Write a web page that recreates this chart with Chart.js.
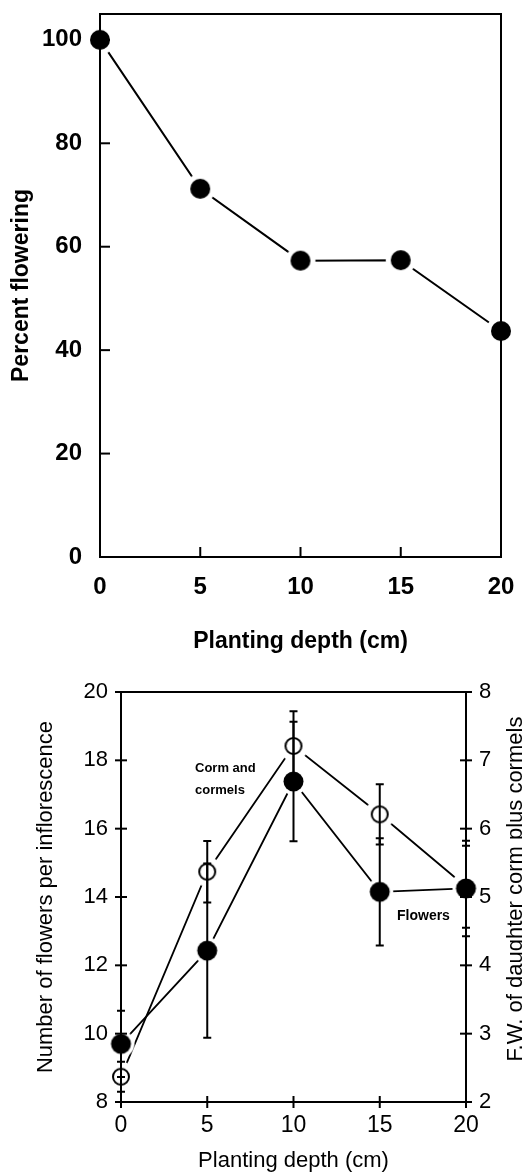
<!DOCTYPE html>
<html>
<head>
<meta charset="utf-8">
<script src="https://cdn.jsdelivr.net/npm/chart.js@4.4.1/dist/chart.umd.min.js"></script>
<style>
  html, body { margin: 0; padding: 0; background: #fff; }
  #wrap { position: relative; width: 522px; height: 1173px; overflow: hidden; }
  .box { position: absolute; left: 0; width: 522px; }
</style>
</head>
<body>
<div id="wrap">
  <div class="box" style="top:0;height:660px"><canvas id="topChart"></canvas></div>
  <div class="box" style="top:660px;height:513px"><canvas id="bottomChart"></canvas></div>
</div>
<script>
// planting depth (cm)
const depth = [0, 5, 10, 15, 20];

// top panel: percent flowering
const percentFlowering = [100, 71.2, 57.3, 57.4, 43.7];

// bottom panel: flowers per inflorescence (left axis) and corm + cormels F.W. (right axis)
const flowers = [9.7, 12.43, 17.38, 14.15, 14.25];
const flowersErr = [0.97, 2.55, 1.75, 1.57, 1.4];
const cormWeight = [2.37, 5.37, 7.21, 6.21, 5.15];
const cormErr = [0.22, 0.45, 0.51, 0.44, 0.6];

const depthTicks = [0, 5, 10, 15, 20];
const percentTicks = [0, 20, 40, 60, 80, 100];
const flowerTicks = [8, 10, 12, 14, 16, 18, 20];
const cormTicks = [2, 3, 4, 5, 6, 7, 8];

const FONT = "'Liberation Sans', Arial, sans-serif";
Chart.defaults.color = "#000";
Chart.defaults.font.family = FONT;

const pts = (ys) => depth.map((x, i) => ({ x: x, y: ys[i] }));
const setTicks = (vals) => (s) => { s.ticks = vals.map((v) => ({ value: v })); };

// fixed axis box size, and no extra room asked for overhanging labels
const fixSize = (w, h) => (s) => {
  if (w) s.width = w;
  if (h) s.height = h;
  s.paddingTop = s.paddingBottom = s.paddingLeft = s.paddingRight = 0;
};

// marker with a white halo so the joining lines stop short of it
function marker(r, gap, open) {
  const size = Math.ceil((r + gap) * 2 + 2);
  const c = document.createElement("canvas");
  c.width = size;
  c.height = size;
  const ctx = c.getContext("2d");
  const m = size / 2;
  ctx.fillStyle = "#fff";
  ctx.beginPath();
  ctx.arc(m, m, r + gap, 0, Math.PI * 2);
  ctx.fill();
  ctx.beginPath();
  if (open) {
    ctx.arc(m, m, r - 1, 0, Math.PI * 2);
    ctx.lineWidth = 2;
    ctx.strokeStyle = "#000";
    ctx.stroke();
  } else {
    ctx.arc(m, m, r, 0, Math.PI * 2);
    ctx.fillStyle = "#000";
    ctx.fill();
  }
  return c;
}

const errorBars = {
  id: "errorBars",
  afterDatasetsDraw(chart) {
    const ctx = chart.ctx;
    chart.data.datasets.forEach((ds, i) => {
      if (!ds.errors) return;
      const meta = chart.getDatasetMeta(i);
      const xs = chart.scales[meta.xAxisID], ys = chart.scales[meta.yAxisID];
      ctx.save();
      ctx.strokeStyle = "#000";
      ctx.lineWidth = 2;
      ds.data.forEach((p, j) => {
        const x = xs.getPixelForValue(p.x);
        const top = ys.getPixelForValue(p.y + ds.errors[j]);
        const bot = ys.getPixelForValue(p.y - ds.errors[j]);
        ctx.beginPath();
        ctx.moveTo(x, top); ctx.lineTo(x, bot);
        ctx.moveTo(x - 4, top); ctx.lineTo(x + 4, top);
        ctx.moveTo(x - 4, bot); ctx.lineTo(x + 4, bot);
        ctx.stroke();
      });
      ctx.restore();
    });
  }
};

// box round the plot plus the short tick marks
const frame = {
  id: "frame",
  afterDraw(chart, args, opts) {
    const ctx = chart.ctx, a = chart.chartArea;
    ctx.save();
    ctx.strokeStyle = "#000";
    ctx.lineWidth = opts.width || 2;
    ctx.strokeRect(a.left, a.top, a.right - a.left, a.bottom - a.top);
    const marks = opts.marks || {};
    Object.keys(marks).forEach((id) => {
      const s = chart.scales[id], m = marks[id];
      s.ticks.forEach((t) => {
        if (!m.edges && (t.value === s.min || t.value === s.max)) return;
        const p = s.getPixelForValue(t.value);
        ctx.beginPath();
        if (s.position === "left") {
          ctx.moveTo(a.left - m.outer, p); ctx.lineTo(a.left + m.inner, p);
        } else if (s.position === "right") {
          ctx.moveTo(a.right + m.outer, p); ctx.lineTo(a.right - m.inner, p);
        } else {
          ctx.moveTo(p, a.bottom + m.outer); ctx.lineTo(p, a.bottom - m.inner);
        }
        ctx.stroke();
      });
    });
    ctx.restore();
  }
};

// free text: labels inside the plot and the right axis title
const notes = {
  id: "notes",
  afterDraw(chart, args, opts) {
    const ctx = chart.ctx;
    (opts.items || []).forEach((n) => {
      ctx.save();
      ctx.font = n.font;
      ctx.fillStyle = "#000";
      ctx.textAlign = n.align || "left";
      ctx.textBaseline = n.baseline || "middle";
      if (n.rotate) {
        const a = chart.chartArea;
        ctx.translate(chart.width, (a.top + a.bottom) / 2 + (n.dy || 0));
        ctx.rotate(-Math.PI / 2);
        ctx.fillText(n.text, 0, 0);
      } else {
        const x = chart.scales.x.getPixelForValue(n.x);
        const y = chart.scales[n.axis || "y"].getPixelForValue(n.y);
        ctx.fillText(n.text, x, y);
      }
      ctx.restore();
    });
  }
};

new Chart("topChart", {
  type: "line",
  data: {
    datasets: [
      {
        data: pts(percentFlowering),
        borderColor: "#000",
        borderWidth: 2,
        pointStyle: marker(10, 5, false),
        pointRadius: 15,
        clip: false,
      },
    ],
  },
  options: {
    responsive: true,
    maintainAspectRatio: false,
    animation: false,
    layout: { autoPadding: false, padding: { top: 14, right: 21, left: 0, bottom: 0 } },
    plugins: {
      legend: { display: false },
      tooltip: { enabled: false },
      frame: {
        width: 2,
        marks: {
          x: { inner: 10, outer: 0, edges: false },
          y: { inner: 10, outer: 0, edges: false },
        },
      },
    },
    scales: {
      x: {
        type: "linear",
        min: 0,
        max: 20,
        afterBuildTicks: setTicks(depthTicks),
        afterFit: fixSize(0, 103),
        grid: { display: false, drawTicks: false },
        border: { display: false },
        ticks: { padding: 16, font: { size: 24, weight: "bold" } },
        title: {
          display: true,
          text: "Planting depth (cm)",
          font: { size: 23, weight: "bold" },
          padding: { top: 0, bottom: 5 },
        },
      },
      y: {
        min: 0,
        max: 105,
        afterBuildTicks: setTicks(percentTicks),
        afterFit: fixSize(100, 0),
        grid: { display: false, drawTicks: false },
        border: { display: false },
        ticks: { padding: 18, font: { size: 24, weight: "bold" } },
        title: {
          display: true,
          text: "Percent flowering",
          font: { size: 23, weight: "bold" },
          padding: { top: 8, bottom: 0 },
        },
      },
    },
  },
  plugins: [frame],
});

new Chart("bottomChart", {
  type: "line",
  data: {
    datasets: [
      {
        label: "Flowers",
        data: pts(flowers),
        errors: flowersErr,
        yAxisID: "y",
        borderColor: "#000",
        borderWidth: 1.8,
        pointStyle: marker(10, 3.5, false),
        pointRadius: 14,
        clip: false,
      },
      {
        label: "Corm and cormels",
        data: pts(cormWeight),
        errors: cormErr,
        yAxisID: "y2",
        borderColor: "#000",
        borderWidth: 1.8,
        pointStyle: marker(9, 6, true),
        pointRadius: 15,
        clip: false,
      },
    ],
  },
  options: {
    responsive: true,
    maintainAspectRatio: false,
    animation: false,
    layout: { autoPadding: false, padding: { top: 32, right: 0, left: 0, bottom: 0 } },
    plugins: {
      legend: { display: false },
      tooltip: { enabled: false },
      frame: {
        width: 2,
        marks: {
          x: { inner: 6, outer: 6, edges: true },
          y: { inner: 6, outer: 6, edges: true },
          y2: { inner: 6, outer: 6, edges: true },
        },
      },
      notes: {
        items: [
          { text: "Corm and", x: 4.29, y: 17.77, font: "bold 13px " + FONT },
          { text: "cormels", x: 4.29, y: 17.13, font: "bold 13px " + FONT },
          { text: "Flowers", x: 16.0, y: 13.43, font: "bold 14px " + FONT },
          {
            text: "F.W. of daughter corm plus cormels",
            rotate: true,
            dy: -8,
            align: "center",
            baseline: "alphabetic",
            font: "22px " + FONT,
          },
        ],
      },
    },
    scales: {
      x: {
        type: "linear",
        min: 0,
        max: 20,
        afterBuildTicks: setTicks(depthTicks),
        afterFit: fixSize(0, 71),
        grid: { display: false, drawTicks: false },
        border: { display: false },
        ticks: { padding: 10, font: { size: 23 } },
        title: {
          display: true,
          text: "Planting depth (cm)",
          font: { size: 22, lineHeight: 1.1 },
          padding: { top: 0, bottom: 0 },
        },
      },
      y: {
        position: "left",
        min: 8,
        max: 20,
        afterBuildTicks: setTicks(flowerTicks),
        afterFit: fixSize(121, 0),
        grid: { display: false, drawTicks: false },
        border: { display: false },
        ticks: { padding: 13, font: { size: 22 } },
        title: {
          display: true,
          text: "Number of flowers per inflorescence",
          font: { size: 22 },
          padding: { top: 33, bottom: 0 },
        },
      },
      y2: {
        position: "right",
        min: 2,
        max: 8,
        afterBuildTicks: setTicks(cormTicks),
        afterFit: fixSize(56, 0),
        grid: { display: false, drawTicks: false },
        border: { display: false },
        ticks: { padding: 13, font: { size: 22 } },
      },
    },
  },
  plugins: [errorBars, frame, notes],
});
</script>
</body>
</html>
